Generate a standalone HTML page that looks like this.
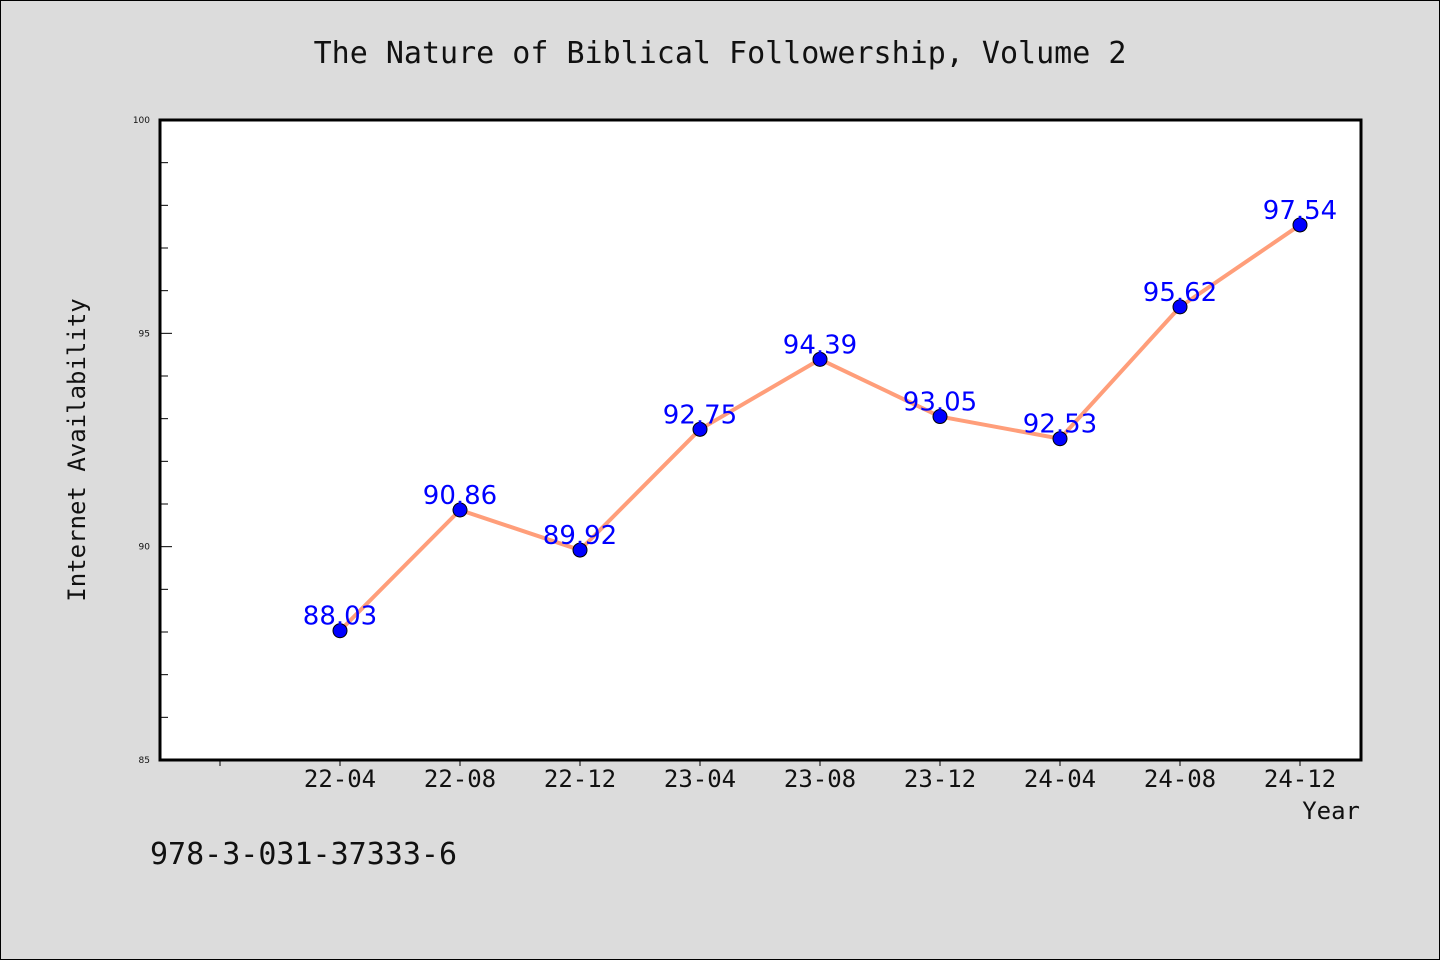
<!DOCTYPE html>
<html><head><meta charset="utf-8"><style>
body{margin:0;background:#dcdcdc;}
svg{display:block;}
.mono{font-family:"DejaVu Sans Mono","Liberation Mono",monospace;fill:#111;}
</style></head><body>
<svg id="chart" width="1440" height="960" xmlns="http://www.w3.org/2000/svg">
<rect x="0.5" y="0.5" width="1439" height="959" fill="#dcdcdc" stroke="#000"/>
<text class="mono" x="720" y="63" font-size="30" text-anchor="middle">The Nature of Biblical Followership, Volume 2</text>
<rect x="160" y="120" width="1201" height="640" fill="#fff"/>
<g id="axes"></g>
<g id="series"></g>
<rect x="160" y="120" width="1201" height="640" fill="none" stroke="#000" stroke-width="3"/>
<text class="mono" x="85" y="450" font-size="24" text-anchor="middle" transform="rotate(-90 85 450)">Internet Availability</text>
<text class="mono" x="1360" y="819" font-size="24" text-anchor="end">Year</text>
<text class="mono" x="150" y="864" font-size="30">978-3-031-37333-6</text>
</svg>
<script>
const categories=["22-04","22-08","22-12","23-04","23-08","23-12","24-04","24-08","24-12"];
const values=[88.03,90.86,89.92,92.75,94.39,93.05,92.53,95.62,97.54];
const labels=["88.03","90.86","89.92","92.75","94.39","93.05","92.53","95.62","97.54"];
const yTicks=[85,90,95,100];
const yMin=85,yMax=100;
const NS="http://www.w3.org/2000/svg";
function y(v){return 760-(v-yMin)/(yMax-yMin)*640;}
function x(i){return 340+i*120;}
function mk(t,a,p){const e=document.createElementNS(NS,t);for(const k in a)e.setAttribute(k,a[k]);p.appendChild(e);return e;}
const axes=document.getElementById('axes'),ser=document.getElementById('series');
for(let v=yMin+1;v<yMax;v++){
  const major=(v%5===0);
  const t=mk('line',{x1:160,x2:major?172:168,y1:y(v),y2:y(v),stroke:'#000','stroke-width':1},axes);
  
  
}
yTicks.forEach(v=>{
  const t=mk('text',{x:150,y:y(v)+3,'font-size':9,'text-anchor':'end','font-family':'DejaVu Sans,sans-serif',fill:'#111'},axes);
  t.textContent=v;
  
  
});
for(let i=-1;i<categories.length;i++){
  const t=mk('line',{x1:x(i),x2:x(i),y1:760,y2:766,stroke:'#000','stroke-width':1},axes);
  
  
}
categories.forEach((c,i)=>{
  const t=mk('text',{x:x(i),y:787,'font-size':24,'text-anchor':'middle',class:'mono'},axes);
  t.textContent=c;
  
  
});
const line=mk('polyline',{points:values.map((v,i)=>x(i)+','+y(v)).join(' '),fill:'none',stroke:'#ff9e7a','stroke-width':4,'stroke-linejoin':'round'},ser);


values.forEach((v,i)=>{
  const c=mk('circle',{cx:x(i),cy:y(v),r:7,fill:'#0000ff',stroke:'#000','stroke-width':1},ser);
  
  
});
values.forEach((v,i)=>{
  const t=mk('text',{x:x(i),y:y(v)-6,'font-size':26,'text-anchor':'middle','font-family':'DejaVu Sans,sans-serif',fill:'#0000ff'},ser);
  t.textContent=labels[i];
  
  
});
</script>
</body></html>
